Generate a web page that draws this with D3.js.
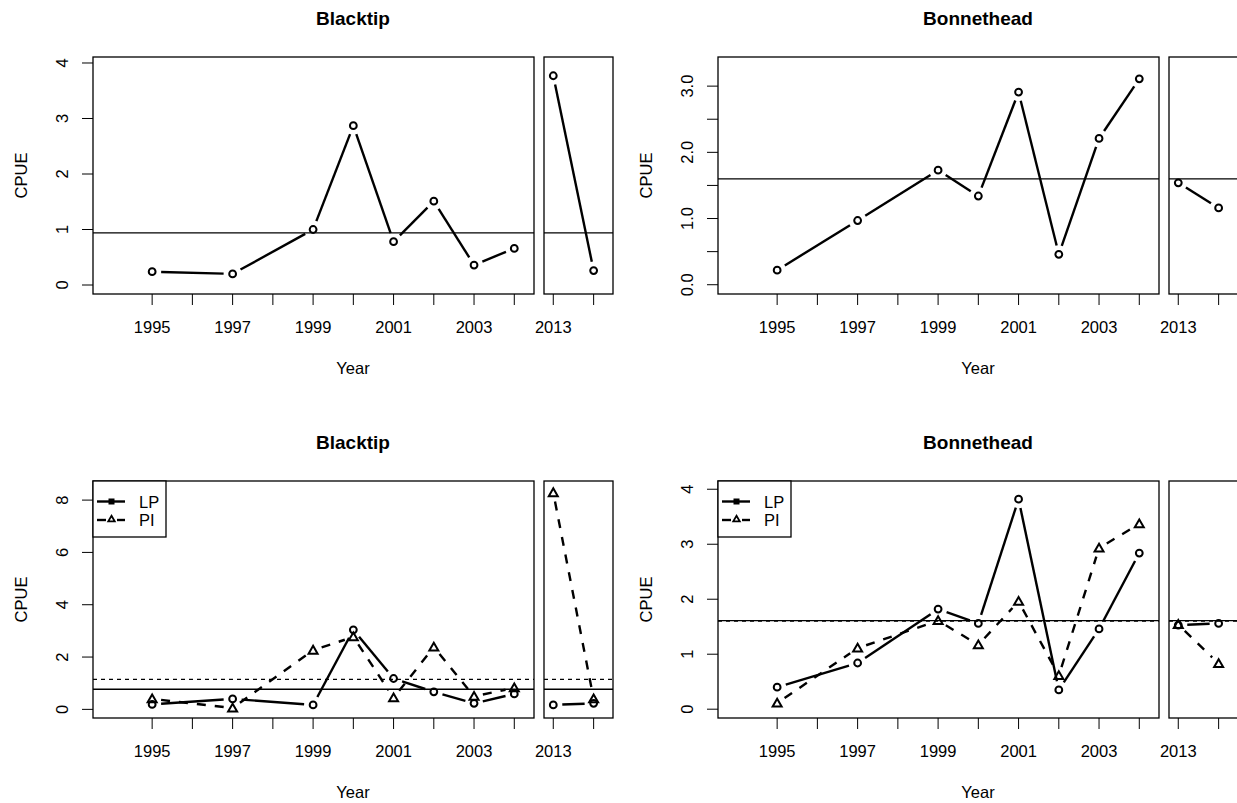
<!DOCTYPE html>
<html>
<head>
<meta charset="utf-8">
<script src="https://cdn.jsdelivr.net/npm/d3@7"></script>
<style>
  body { margin: 0; background: #fff; }
  svg text { font-family: "Liberation Sans", Arial, sans-serif; fill: #000; }
  .title { font-weight: bold; font-size: 19px; }
  .tick { font-size: 16.5px; }
  .lab { font-size: 16.5px; }
</style>
</head>
<body>
<div id="chart1"></div>
<script>

// years shown in the main panel and in the small panel after the break
var mainYears = [1995, 1997, 1999, 2000, 2001, 2002, 2003, 2004];
var breakYears = [2013, 2014];
var allYears = mainYears.concat(breakYears);

var mainTicks = [1995, 1996, 1997, 1998, 1999, 2000, 2001, 2002, 2003, 2004];
var breakTicks = [2013, 2014];
var labelledYears = [1995, 1997, 1999, 2001, 2003, 2013];

// CPUE, all sites
var blacktipAll = [0.24, 0.20, 1.00, 2.87, 0.78, 1.51, 0.36, 0.66, 3.77, 0.26];
var blacktipAllMean = 0.94;
var bonnetheadAll = [0.22, 0.97, 1.73, 1.34, 2.91, 0.46, 2.21, 3.11, 1.54, 1.16];
var bonnetheadAllMean = 1.60;

// CPUE by site (LP / PI)
var blacktipLP = [0.19, 0.40, 0.17, 3.04, 1.18, 0.67, 0.23, 0.59, 0.17, 0.23];
var blacktipPI = [0.40, 0.05, 2.26, 2.77, 0.44, 2.38, 0.50, 0.82, 8.28, 0.40];
var blacktipLPMean = 0.77;
var blacktipPIMean = 1.15;
var bonnetheadLP = [0.40, 0.84, 1.82, 1.56, 3.82, 0.35, 1.46, 2.84, 1.53, 1.56];
var bonnetheadPI = [0.11, 1.11, 1.61, 1.17, 1.96, 0.61, 2.93, 3.37, 1.54, 0.83];
var bonnetheadLPMean = 1.61;
var bonnetheadPIMean = 1.60;

var legendNames = ["LP", "PI"];

var width = 1237, height = 803;

var svg = d3.select("#chart1")
    .append("svg")
    .attr("width", width)
    .attr("height", height);

var colOffset = [0, 625];
var rowOffset = [0, 424];

// ticks: every tick gets a line, only labelled ones get text
var panels = [
    { title: "Blacktip", col: 0, row: 0, yDomain: [-0.162, 4.108],
      yTicks: [0, 1, 2, 3, 4], yLabels: [0, 1, 2, 3, 4], fmt: d3.format("d"),
      series: [{ values: blacktipAll, dash: null, shape: "circle" }],
      means: [{ v: blacktipAllMean, dash: null }], legend: false },
    { title: "Bonnethead", col: 1, row: 0, yDomain: [-0.14, 3.44],
      yTicks: [0, 0.5, 1, 1.5, 2, 2.5, 3], yLabels: [0, 1, 2, 3], fmt: d3.format(".1f"),
      series: [{ values: bonnetheadAll, dash: null, shape: "circle" }],
      means: [{ v: bonnetheadAllMean, dash: null }], legend: false },
    { title: "Blacktip", col: 0, row: 1, yDomain: [-0.33, 8.73],
      yTicks: [0, 2, 4, 6, 8], yLabels: [0, 2, 4, 6, 8], fmt: d3.format("d"),
      series: [{ values: blacktipLP, dash: null, shape: "circle" },
               { values: blacktipPI, dash: "9,9", shape: "triangle" }],
      means: [{ v: blacktipLPMean, dash: null }, { v: blacktipPIMean, dash: "4,4" }], legend: true },
    { title: "Bonnethead", col: 1, row: 1, yDomain: [-0.16, 4.15],
      yTicks: [0, 1, 2, 3, 4], yLabels: [0, 1, 2, 3, 4], fmt: d3.format("d"),
      series: [{ values: bonnetheadLP, dash: null, shape: "circle" },
               { values: bonnetheadPI, dash: "9,9", shape: "triangle" }],
      means: [{ v: bonnetheadLPMean, dash: null }, { v: bonnetheadPIMean, dash: "4,4" }], legend: true }
];

var gap = 9;

function drawPanel(p) {
    var ox = colOffset[p.col], oy = rowOffset[p.row];
    var g = svg.append("g").attr("transform", "translate(" + ox + "," + oy + ")");

    var top = 57, bottom = 294;
    var xMain = d3.scaleLinear().domain([1993.53, 2004.49]).range([93, 534]);
    var xBreak = d3.scaleLinear().domain([2012.77, 2014.48]).range([544, 613]);
    var y = d3.scaleLinear().domain(p.yDomain).range([bottom, top]);

    function xOf(yr) { return yr > 2010 ? xBreak(yr) : xMain(yr); }

    // title, axis labels
    g.append("text").attr("class", "title")
        .attr("x", 353).attr("y", 18).attr("text-anchor", "middle")
        .attr("dominant-baseline", "central").text(p.title);
    g.append("text").attr("class", "lab")
        .attr("x", 353).attr("y", 368).attr("text-anchor", "middle")
        .attr("dominant-baseline", "central").text("Year");
    g.append("text").attr("class", "lab")
        .attr("transform", "translate(21," + ((top + bottom) / 2) + ") rotate(-90)")
        .attr("text-anchor", "middle").attr("dominant-baseline", "central").text("CPUE");

    // y axis ticks
    p.yTicks.forEach(function(t) {
        g.append("line").attr("x1", 82).attr("x2", 93)
            .attr("y1", y(t)).attr("y2", y(t))
            .attr("stroke", "#000").attr("stroke-width", 1);
    });
    p.yLabels.forEach(function(t) {
        g.append("text").attr("class", "tick")
            .attr("transform", "translate(62," + y(t) + ") rotate(-90)")
            .attr("text-anchor", "middle").attr("dominant-baseline", "central")
            .text(p.fmt(t));
    });

    // x ticks
    mainTicks.concat(breakTicks).forEach(function(t) {
        var x = xOf(t);
        g.append("line").attr("x1", x).attr("x2", x)
            .attr("y1", bottom).attr("y2", bottom + 11)
            .attr("stroke", "#000").attr("stroke-width", 1);
        if (labelledYears.indexOf(t) >= 0) {
            g.append("text").attr("class", "tick")
                .attr("x", x).attr("y", 327).attr("text-anchor", "middle")
                .attr("dominant-baseline", "central").text(t);
        }
    });

    var boxes = [[93, 534], [544, 613]];

    // mean lines
    p.means.forEach(function(m) {
        boxes.forEach(function(b) {
            g.append("line").attr("x1", b[0]).attr("x2", b[1])
                .attr("y1", y(m.v)).attr("y2", y(m.v))
                .attr("stroke", "#000").attr("stroke-width", 1.3)
                .attr("stroke-dasharray", m.dash);
        });
    });

    // series: line segments with gaps around points (type = "b")
    p.series.forEach(function(s) {
        var pts = allYears.map(function(yr, i) { return [xOf(yr), y(s.values[i]), yr > 2010]; });
        for (var i = 0; i < pts.length - 1; i++) {
            var a = pts[i], b = pts[i + 1];
            if (a[2] !== b[2]) continue;
            var dx = b[0] - a[0], dy = b[1] - a[1];
            var L = Math.sqrt(dx * dx + dy * dy);
            if (L <= 2 * gap) continue;
            var ux = dx / L, uy = dy / L;
            g.append("line")
                .attr("x1", a[0] + ux * gap).attr("y1", a[1] + uy * gap)
                .attr("x2", b[0] - ux * gap).attr("y2", b[1] - uy * gap)
                .attr("stroke", "#000").attr("stroke-width", 2.4)
                .attr("stroke-dasharray", s.dash);
        }
        pts.forEach(function(pt) {
            if (s.shape === "circle") {
                g.append("circle").attr("cx", pt[0]).attr("cy", pt[1]).attr("r", 3.4)
                    .attr("fill", "none").attr("stroke", "#000").attr("stroke-width", 2);
            } else {
                g.append("path")
                    .attr("d", d3.symbol(d3.symbolTriangle2, 58)())
                    .attr("transform", "translate(" + pt[0] + "," + (pt[1] + 0.8) + ")")
                    .attr("fill", "none").attr("stroke", "#000").attr("stroke-width", 2);
            }
        });
    });

    // boxes
    boxes.forEach(function(b) {
        g.append("rect").attr("x", b[0]).attr("y", top)
            .attr("width", b[1] - b[0]).attr("height", bottom - top)
            .attr("fill", "none").attr("stroke", "#000").attr("stroke-width", 1.3);
    });

    // legend
    if (p.legend) {
        var lg = g.append("g");
        lg.append("rect").attr("x", 93).attr("y", top).attr("width", 73).attr("height", 56)
            .attr("fill", "#fff").attr("stroke", "#000").attr("stroke-width", 1.3);
        legendNames.forEach(function(name, i) {
            var ly = top + 20.5 + i * 18.5;
            if (i === 0) {
                lg.append("line").attr("x1", 97).attr("x2", 125).attr("y1", ly).attr("y2", ly)
                    .attr("stroke", "#000").attr("stroke-width", 2.4);
                lg.append("rect").attr("x", 108.5).attr("y", ly - 3).attr("width", 6).attr("height", 6)
                    .attr("fill", "#000");
            } else {
                lg.append("line").attr("x1", 97).attr("x2", 106).attr("y1", ly).attr("y2", ly)
                    .attr("stroke", "#000").attr("stroke-width", 2.4);
                lg.append("line").attr("x1", 117).attr("x2", 125).attr("y1", ly).attr("y2", ly)
                    .attr("stroke", "#000").attr("stroke-width", 2.4);
                lg.append("path").attr("d", d3.symbol(d3.symbolTriangle2, 30)())
                    .attr("transform", "translate(111.5," + (ly - 0.5) + ")")
                    .attr("fill", "#fff").attr("stroke", "#000").attr("stroke-width", 1.8);
            }
            lg.append("text").attr("class", "lab").attr("x", 139).attr("y", ly)
                .attr("dominant-baseline", "central").text(name);
        });
    }
}

panels.forEach(drawPanel);

</script>
</body>
</html>
